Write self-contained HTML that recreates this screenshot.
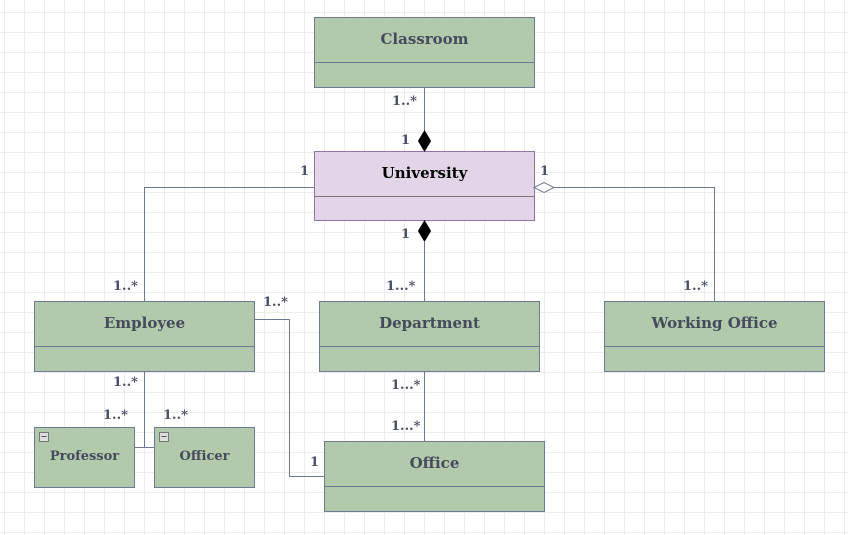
<!DOCTYPE html>
<html><head><style>
body{margin:0;width:848px;height:535px;overflow:hidden;background:#fff;
background-image:linear-gradient(#ececec 1px,transparent 1px),linear-gradient(90deg,#ececec 1px,transparent 1px);
background-size:20px 20px;background-position:4px 12px;}
.b{position:absolute;box-sizing:border-box;border:1px solid #6c7a96;background:#b2c9ab;font:bold 15px "DejaVu Serif","Liberation Serif",serif;color:#444b5c;text-align:center}
.b .d{position:absolute;left:0;right:0;border-top:1px solid #6c7a96}
.l{position:absolute;font:bold 13px "DejaVu Serif","Liberation Serif",serif;color:#4a4f66}
.m{position:absolute;left:4px;top:4px;width:8px;height:8px;border:1px solid #777;background:#ddd;font-size:8px;line-height:6px}
</style></head><body>
<div class="b" style="left:314px;top:17px;width:221px;height:71px;line-height:42px">Classroom<div class="d" style="top:44px"></div></div>
<div class="b" style="left:314px;top:151px;width:221px;height:70px;line-height:42px;background:#e1d5e7;border-color:#9673a6;color:#000">University<div class="d" style="top:44px;border-color:#777"></div></div>
<div class="b" style="left:34px;top:301px;width:221px;height:71px;line-height:42px">Employee<div class="d" style="top:44px"></div></div>
<div class="b" style="left:319px;top:301px;width:221px;height:71px;line-height:42px">Department<div class="d" style="top:44px"></div></div>
<div class="b" style="left:604px;top:301px;width:221px;height:71px;line-height:42px">Working Office<div class="d" style="top:44px"></div></div>
<div class="b" style="left:34px;top:427px;width:101px;height:61px;line-height:58px;font-size:13px"><div class="m">−</div>Professor</div>
<div class="b" style="left:154px;top:427px;width:101px;height:61px;line-height:58px;font-size:13px"><div class="m">−</div>Officer</div>
<div class="b" style="left:324px;top:441px;width:221px;height:71px;line-height:42px">Office<div class="d" style="top:44px"></div></div>
<svg width="848" height="535" style="position:absolute;left:0;top:0" fill="none" stroke="#6c7a96" stroke-width="1">
<path d="M424.5 88V131"/><path d="M424.5 131l-6 10 6 10 6-10z" fill="#000" stroke="#000"/>
<path d="M314 187.5H144.5V301"/>
<path d="M554 187.5H714.5V301"/><path d="M534 187.5l10-5 10 5-10 5z" fill="#fff"/>
<path d="M424.5 221l-6 10 6 10 6-10z" fill="#000" stroke="#000"/><path d="M424.5 241V301"/>
<path d="M255 319.5H289.5V476.5H324"/>
<path d="M144.5 372V447.5M135 447.5H154"/>
<path d="M424.5 372V441"/>
</svg>
<div class="l" style="left:392px;top:94px">1..*</div>
<div class="l" style="left:401px;top:133px">1</div>
<div class="l" style="left:300px;top:164px">1</div>
<div class="l" style="left:540px;top:164px">1</div>
<div class="l" style="left:401px;top:227px">1</div>
<div class="l" style="left:113px;top:279px">1..*</div>
<div class="l" style="left:263px;top:295px">1..*</div>
<div class="l" style="left:386px;top:279px">1...*</div>
<div class="l" style="left:683px;top:279px">1..*</div>
<div class="l" style="left:113px;top:375px">1..*</div>
<div class="l" style="left:103px;top:408px">1..*</div>
<div class="l" style="left:163px;top:408px">1..*</div>
<div class="l" style="left:391px;top:378px">1...*</div>
<div class="l" style="left:391px;top:419px">1...*</div>
<div class="l" style="left:310px;top:455px">1</div>
</body></html>
